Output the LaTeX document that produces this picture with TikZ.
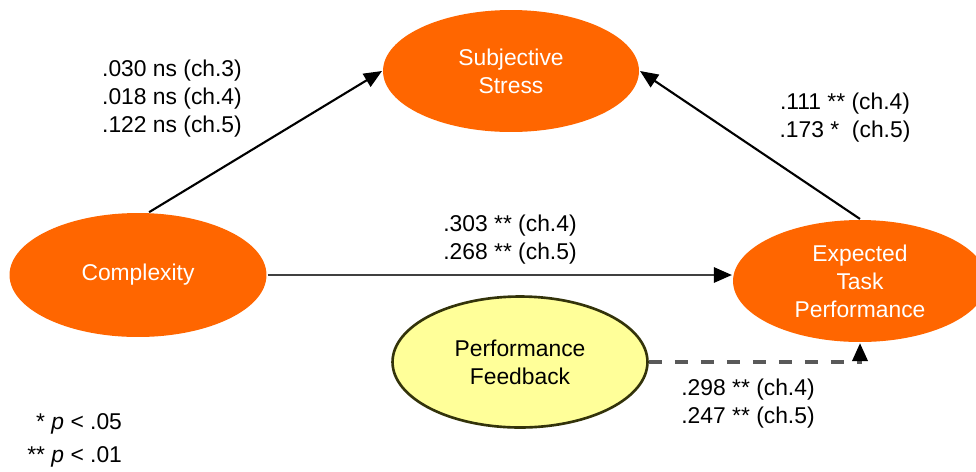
\documentclass[tikz,border=0pt]{standalone}
\usepackage{fontspec}
\setmainfont{Liberation Sans}
\usetikzlibrary{arrows.meta,shapes.geometric}
\definecolor{orangefill}{HTML}{FF6600}
\definecolor{feedfill}{HTML}{FFFF99}
\definecolor{feedline}{HTML}{33330A}

\begin{document}
\begin{tikzpicture}[x=0.02cm,y=-0.02cm,line width=1.2pt,>={Triangle[length=3.6mm,width=3mm,color=black]},
  factor/.style={ellipse,fill=orangefill,text=white,align=center,inner sep=0pt,font=\fontsize{13}{16}\selectfont},
  coef/.style={align=center,inner sep=0pt,font=\fontsize{13}{16}\selectfont}]
  \useasboundingbox (0,0) rectangle (976,471);
  \clip (0,0) rectangle (976,471);
  % factores
  \node[factor,minimum width=5.12cm,minimum height=2.44cm] (stress) at (511,71){Subjective\\Stress};
  \node[factor,minimum width=5.14cm,minimum height=2.48cm] (cplx) at (138,275){Complexity};
  \node[factor,minimum width=5.08cm,minimum height=2.44cm] (expect) at (860,281){Expected\\Task\\Performance};
  \node[factor,fill=feedfill,draw=feedline,text=black,line width=1.5pt,minimum width=5.1cm,minimum height=2.62cm] (feedbk) at (520,362){Performance\\Feedback};
  % caminos
  \draw[->] (cplx.80) -- (stress.west);
  \draw[->] (expect.north) -- (stress.east);
  \draw[->,black!75,line width=1.5pt] (cplx.east) -- (cplx.east -| expect.west);
  \draw[->,black!65,line width=2pt,dash pattern=on 0.26cm off 0.26cm] (feedbk.east) -| (expect.south);
  % coeficientes
  \node[coef] (csval) at (172,98.5){.030 ns (ch.3)\\.018 ns (ch.4)\\.122 ns (ch.5)};
  \node[coef] (esval) at (845,118){.111 ** (ch.4)\\.173 *\ \ (ch.5)};
  \node[coef] (ceval) at (510,240){.303 ** (ch.4)\\.268 ** (ch.5)};
  \node[coef] (fbval) at (748,403.5){.298 ** (ch.4)\\.247 ** (ch.5)};
  % significancia
  \node[coef,anchor=east] (sigA) at (123,424){* \textit{p} < .05};
  \node[coef,anchor=east] (sigB) at (123,457){** \textit{p} < .01};
\end{tikzpicture}
\end{document}
